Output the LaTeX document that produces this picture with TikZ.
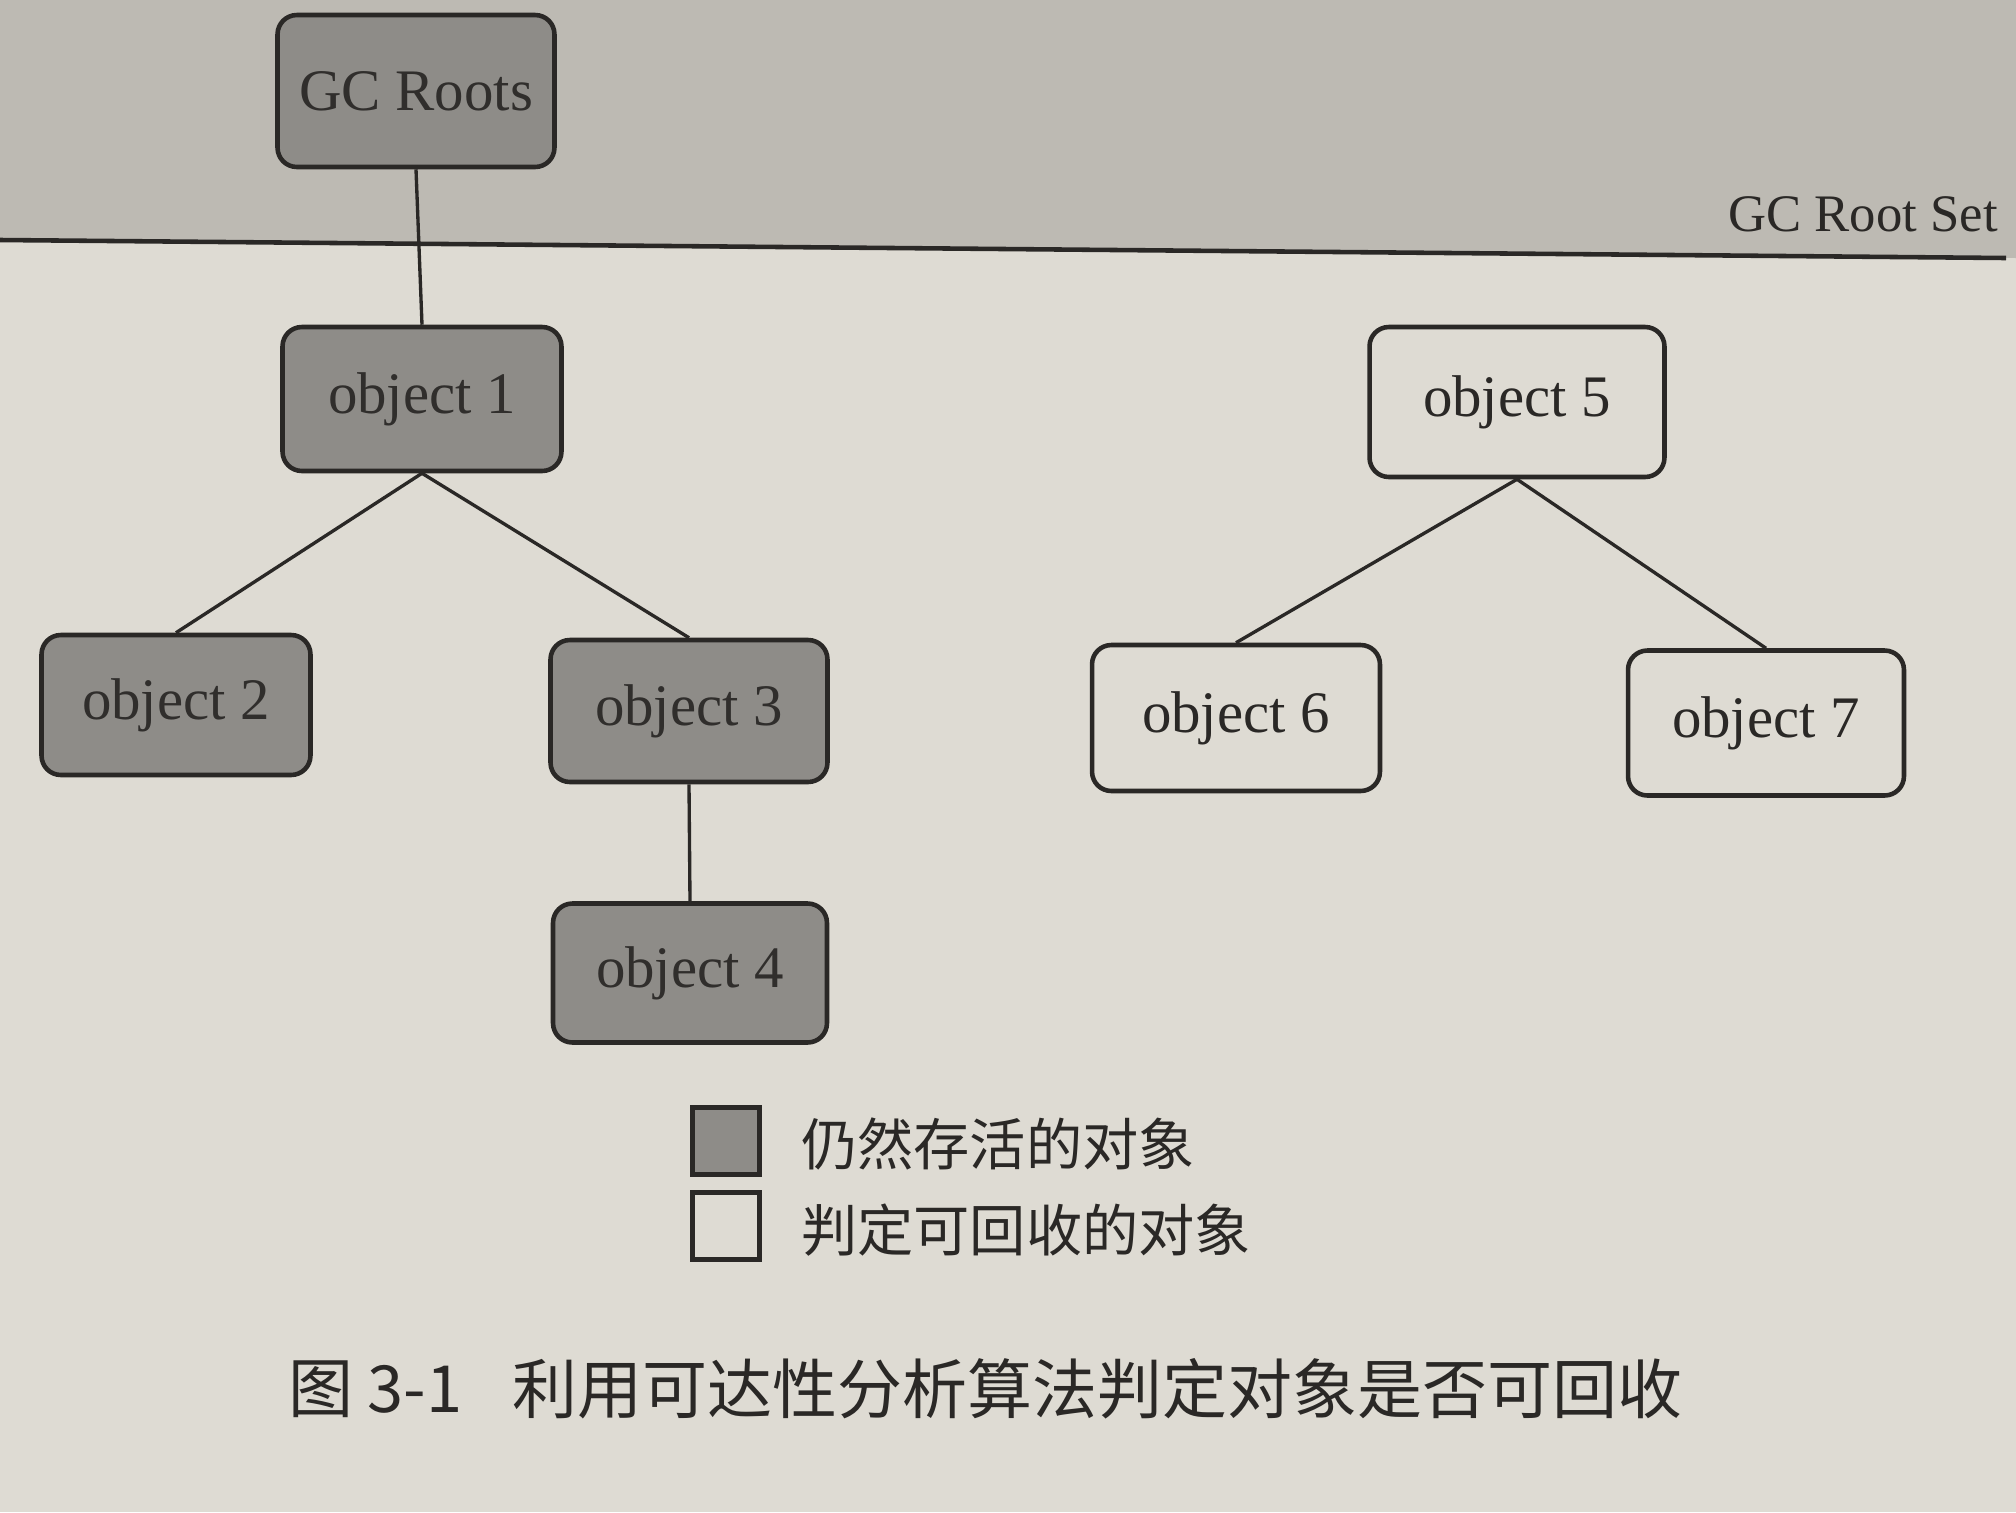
\documentclass[tikz,border=0pt]{standalone}
\usepackage{fontspec}
\setmainfont{Liberation Serif}
\newfontfamily\cjk{Noto Sans CJK SC}
\definecolor{paper}{HTML}{DEDBD3}
\definecolor{rootzone}{HTML}{BDBAB3}
\definecolor{livefill}{HTML}{8E8C88}
\definecolor{ink}{HTML}{2A2826}
\definecolor{livetext}{HTML}{302E2C}
\begin{document}
\begin{tikzpicture}[x=0.02cm,y=-0.02cm,
  objbox/.style={rectangle, rounded corners=11pt, draw=ink, line width=2.6pt,
    font=\fontsize{33.5}{38}\selectfont, inner sep=0pt},
  live/.style={objbox, fill=livefill, text=livetext},
  dead/.style={objbox, fill=paper, text=ink},
  link/.style={draw=ink, line width=1.9pt},
  legendbox/.style={rectangle, draw=ink, line width=2.6pt, minimum width=1.34cm, minimum height=1.34cm, inner sep=0pt},
  legendtext/.style={anchor=west, text=ink, font=\cjk\fontsize{32}{36}\selectfont},
  captiontext/.style={anchor=west, text=ink, font=\cjk\fontsize{37}{42}\selectfont}]
\useasboundingbox (0,0) rectangle (2016,1512);
\fill[paper] (0,0) rectangle (2016,1512);
% GC root set zone
\fill[rootzone] (0,0) -- (2016,0) -- (2016,258) -- (0,240) -- cycle;
\coordinate (lineL) at (0,240);
\coordinate (lineR) at (2006,258);
\draw[draw=ink, line width=2.6pt] (lineL) -- (lineR);
\node[anchor=south east, text=ink, font=\fontsize{30}{34}\selectfont, inner sep=0pt] (setlabel) at (1998,232) {GC Root Set};

% nodes
\node[live, minimum width=5.54cm, minimum height=3.04cm] (gc) at (416,91) {GC Roots};
\node[live, minimum width=5.58cm, minimum height=2.88cm] (o1) at (422,399) {object 1};
\node[live, minimum width=5.38cm, minimum height=2.80cm] (o2) at (176,705) {object 2};
\node[live, minimum width=5.54cm, minimum height=2.84cm] (o3) at (689,711) {object 3};
\node[live, minimum width=5.48cm, minimum height=2.78cm] (o4) at (690,973) {object 4};
\node[dead, minimum width=5.90cm, minimum height=3.00cm] (o5) at (1517,402) {object 5};
\node[dead, minimum width=5.76cm, minimum height=2.92cm] (o6) at (1236,718) {object 6};
\node[dead, minimum width=5.52cm, minimum height=2.90cm] (o7) at (1766,723) {object 7};

% connectors
\draw[link] (gc.south) -- (o1.north);
\draw[link] (o1.south) -- (o2.north);
\draw[link] (o1.south) -- (o3.north);
\draw[link] (o3.south) -- (o4.north);
\draw[link] (o5.south) -- (o6.north);
\draw[link] (o5.south) -- (o7.north);

% legend
\node[legendbox, fill=livefill] (lg1) at (726,1141) {};
\node[legendbox, fill=paper] (lg2) at (726,1226) {};
\node[legendtext] (lt1) at (795,1144) {仍然存活的对象};
\node[legendtext] (lt2) at (795,1230) {判定可回收的对象};

% caption
\node[captiontext] (capnum) at (282,1389) {图 3-1};
\node[captiontext] (captext) at (506,1389) {利用可达性分析算法判定对象是否可回收};
\end{tikzpicture}
\end{document}
